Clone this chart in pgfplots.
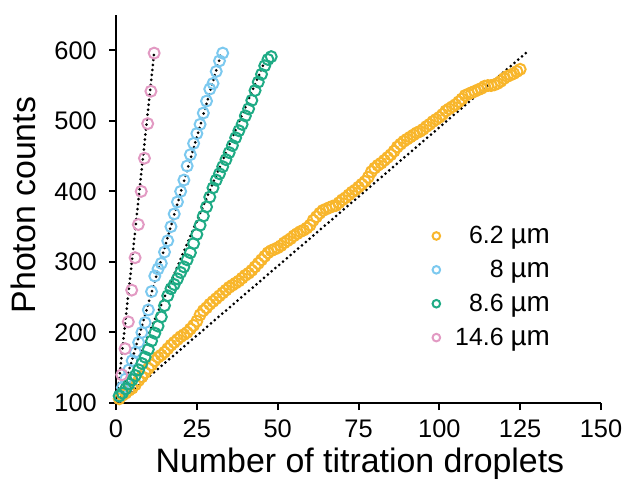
\documentclass[border=0pt]{standalone}
\usepackage{fontspec}
\setmainfont{Liberation Sans}
\usepackage{pgfplots}
\pgfplotsset{compat=1.18}
\definecolor{cy}{HTML}{F8B62C}
\definecolor{cb}{HTML}{7CC9EF}
\definecolor{cg}{HTML}{1FAB85}
\definecolor{cp}{HTML}{E29AC3}
\begin{document}
\begin{tikzpicture}
\begin{axis}[
 scale only axis, width=485bp, height=388bp,
 xmin=0, xmax=150, ymin=100, ymax=650,
 axis lines=left, axis line style={-, line width=2bp},
 xtick={0,25,50,75,100,125,150}, ytick={100,200,300,400,500,600},
 xticklabels={0,25,50,75,100,125,150},
 yticklabels={100,200,300,400,500,600},
 tick align=outside, major tick length=7bp,
 tick style={line width=2bp, black},
 tick label style={font=\fontsize{25.5}{28}\selectfont},
 xticklabel style={inner sep=2bp, yshift=-8bp},
 yticklabel style={inner sep=3bp, xshift=-9bp},
 xlabel={Number of titration droplets}, ylabel={Photon counts},
 label style={font=\fontsize{34}{40}\selectfont},
 xlabel style={at={(rel axis cs:0.503,-0.178)}, anchor=base},
 ylabel style={at={(rel axis cs:-0.167,0.51)}, anchor=base},
 clip=false,
 legend cell align=right,
 legend style={draw=none, fill=none, at={(rel axis cs:0.897,0.458)}, anchor=north east,
   inner sep=0pt, row sep=13bp, column sep=14bp,
   nodes={inner sep=1bp}, font=\fontsize{25}{28}\selectfont},
 legend image code/.code={\draw[#1, mark size=3.8bp] plot coordinates {(0bp,0bp)};},
]
\path (rel axis cs:-0.2392,-0.2062) coordinate (bbsw);
\path (rel axis cs:1.0474,1.0387) coordinate (bbne);
% 6.2 um
\addplot[only marks, mark=o, mark size=5.5bp, mark options={line width=2bp, draw=cy}, color=cy] table {
x y
1 106
2 111
3 114
4 118
5 121
6 126
7 132
8 137
9 143
10 149
11 154
12 160
13 165
14 168
15 172
16 177
17 182
18 186
19 190
20 194
21 197
22 200
23 205
24 210
25 216
26 225
27 231
28 235
29 240
30 244
31 248
32 252
33 256
34 260
35 264
36 267
37 270
38 273
39 277
40 281
41 284
42 288
43 293
44 298
45 303
46 308
47 313
48 316
49 318
50 320
51 323
52 327
53 330
54 333
55 337
56 340
57 343
58 345
59 348
60 352
61 359
62 364
63 369
64 373
65 375
66 377
67 379
68 380
69 384
70 388
71 391
72 395
73 399
74 402
75 406
76 410
77 414
78 420
79 428
80 433
81 437
82 440
83 444
84 448
85 452
86 457
87 463
88 467
89 471
90 474
91 477
92 480
93 483
94 485
95 488
96 492
97 495
98 499
99 502
100 505
101 509
102 514
103 517
104 520
105 523
106 527
107 531
108 536
109 538
110 540
111 542
112 544
113 546
114 549
115 550
116 550
117 551
118 553
119 556
120 560
121 563
122 565
123 567
124 570
125 573
};
\addlegendentry{6.2 {\fontsize{28}{30}\selectfont µm}}
% 8 um
\addplot[only marks, mark=o, mark size=5.5bp, mark options={line width=2bp, draw=cb}, color=cb] table {
x y
1 110
2 122
3 134
4 147
5 160
6 172
7 186
8 200
9 214
10 232
11 258
12 280
13 290
14 298
15 314
16 330
17 350
18 368
19 385
20 400
21 416
22 436
23 452
24 468
25 482
26 495
27 511
28 528
29 545
30 553
31 570
32 585
33 596
};
\addlegendentry{8 {\fontsize{28}{30}\selectfont µm}}
% 8.6 um
\addplot[only marks, mark=o, mark size=5.5bp, mark options={line width=2bp, draw=cg}, color=cg] table {
x y
1 110
2 114
3 120
4 127
5 133
6 139
7 147
8 156
9 165
10 176
11 188
12 199
13 209
14 222
15 238
16 252
17 262
18 268
19 276
20 285
21 293
22 303
23 313
24 326
25 339
26 352
27 365
28 378
29 392
30 405
31 416
32 425
33 435
34 445
35 455
36 465
37 476
38 486
39 495
40 507
41 517
42 529
43 543
44 555
45 566
46 578
47 587
48 591
};
\addlegendentry{8.6 {\fontsize{28}{30}\selectfont µm}}
% 14.6 um
\addplot[only marks, mark=o, mark size=5.5bp, mark options={line width=2bp, draw=cp}, color=cp] table {
x y
1.8 140
2.8 177
3.8 215
4.85 260
5.9 306
6.9 353
7.8 400
8.8 447
9.8 496
10.8 542
11.8 596
};
\addlegendentry{14.6 {\fontsize{28}{30}\selectfont µm}}
% fit lines
\addplot[forget plot, black, line width=3bp, line cap=round, dash pattern=on 0bp off 5bp] coordinates {(1.2,102) (127,597)};
\addplot[forget plot, black, line width=3bp, line cap=round, dash pattern=on 0bp off 5bp] coordinates {(1.2,102) (32.3,592)};
\addplot[forget plot, black, line width=3bp, line cap=round, dash pattern=on 0bp off 5bp] coordinates {(1.2,102) (46,584)};
\addplot[forget plot, black, line width=3bp, line cap=round, dash pattern=on 0bp off 5bp] coordinates {(0.2,100) (11.8,596)};
\end{axis}
\pgfresetboundingbox
\path[use as bounding box] (bbsw) rectangle (bbne);
\end{tikzpicture}
\end{document}
